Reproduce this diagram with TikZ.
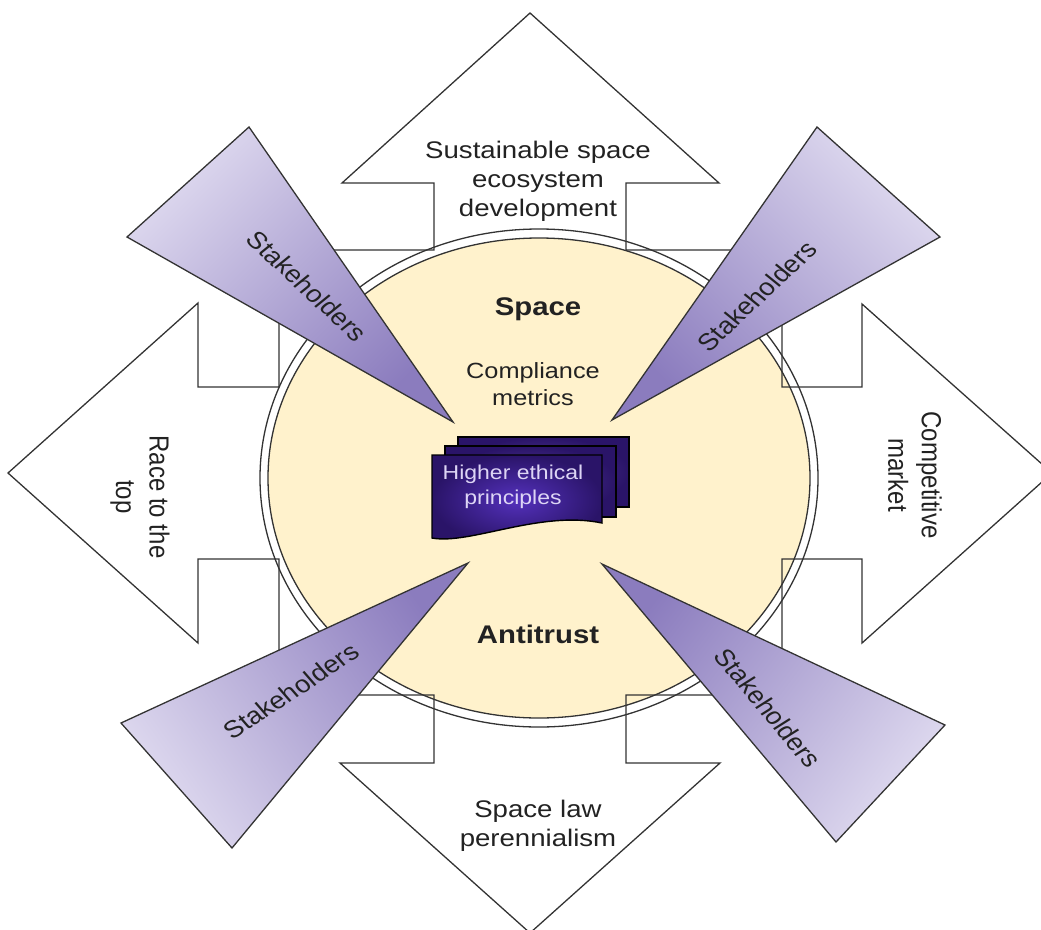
\documentclass[tikz,border=0pt]{standalone}
\usepackage{fontspec}
\setmainfont{Liberation Sans}
\usetikzlibrary{shadings}

\definecolor{discfill}{HTML}{FFF2CC}
\definecolor{stklight}{HTML}{DED9EF}
\definecolor{stkdark}{HTML}{8B7CBE}
\definecolor{docmid}{HTML}{5431BC}
\definecolor{docedge}{HTML}{2A1468}
\definecolor{docback}{HTML}{3A1D8C}
\definecolor{doctext}{HTML}{DDD5F5}
\definecolor{ink}{HTML}{222222}
\definecolor{edge}{HTML}{333333}

\begin{document}
\begin{tikzpicture}[x=1pt,y=-1pt,
  outline/.style={draw=edge, line width=1.3pt, line join=miter},
  stake/.style={outline, top color=stkdark, bottom color=stklight},
  docsheet/.style={draw=black, line width=1.4pt, inner color=docback!85!white, outer color=docedge},
  lbl/.style={text=ink, align=center, xscale=1.15, inner sep=0pt,
    font=\fontsize{24}{29}\selectfont},
  bold/.style={lbl, font=\fontsize{25.5}{30}\selectfont\bfseries},
  stk/.style={lbl, font=\fontsize{24}{29}\selectfont}]
\useasboundingbox (0,0) rectangle (1041,929);
\clip (0,0) rectangle (1041,929);

% cream disc inside a thin white ring
\draw[outline, fill=white] (539,478) ellipse [x radius=279, y radius=249];
\draw[outline, fill=discfill] (539,478) ellipse [x radius=271, y radius=240];

% four-way block arrow around the disc
\draw[outline] (434,250) -- (434,183) -- (342,183) -- (530,13) -- (719,183)
  -- (626,183) -- (626,250) -- (782,250) -- (782,387) -- (862,387) -- (862,304)
  -- (1052,473) -- (862,643) -- (862,559) -- (782,559) -- (782,695) -- (626,695)
  -- (626,763) -- (720,763) -- (530,933) -- (340,763) -- (434,763) -- (434,695)
  -- (279,695) -- (279,559) -- (198,559) -- (198,643) -- (8,473) -- (198,303)
  -- (198,387) -- (279,387) -- (279,250) -- cycle;

% stakeholder wedges pointing at the centre
\path[stake, shading angle=225] (453,422) -- (249,127) -- (127,237) -- cycle;
\path[stake, shading angle=135] (612,420) -- (817,127) -- (940,237) -- cycle;
\path[stake, shading angle=305] (468,563) -- (121,723) -- (232,848) -- cycle;
\path[stake, shading angle=53]  (602,564) -- (945,725) -- (836,842) -- cycle;

% stacked documents
\path[docsheet] (458,437) rectangle (629,507);
\path[docsheet] (445,446) rectangle (616,517);
\path[docsheet, inner color=docmid] (432,455) -- (602,455) -- (602,523)
  .. controls (540,510) and (470,545) .. (432,538) -- cycle;

% labels
\node[lbl] (sus) at (538,181) {Sustainable space\\ecosystem\\development};
\node[lbl] (law) at (538,826) {Space law\\perennialism};
\node[lbl, rotate=-90] (race) at (140,497) {Race to the\\top};
\node[lbl, rotate=-90] (comp) at (915,475) {Competitive\\market};
\node[bold] (space) at (538,309) {Space};
\node[bold] (anti) at (538,634) {Antitrust};
\node[lbl, font=\fontsize{22}{27}\selectfont] (metrics) at (533,384) {Compliance\\metrics};
\node[lbl, text=doctext, font=\fontsize{20}{25}\selectfont] (ethics) at (513,487) {Higher ethical\\principles};

\node[stk, rotate=-47] (s1) at (307,286) {Stakeholders};
\node[stk, rotate=47]  (s2) at (757,296) {Stakeholders};
\node[stk, rotate=37]  (s3) at (291,691) {Stakeholders};
\node[stk, rotate=-54] (s4) at (768,708) {Stakeholders};
\end{tikzpicture}
\end{document}
